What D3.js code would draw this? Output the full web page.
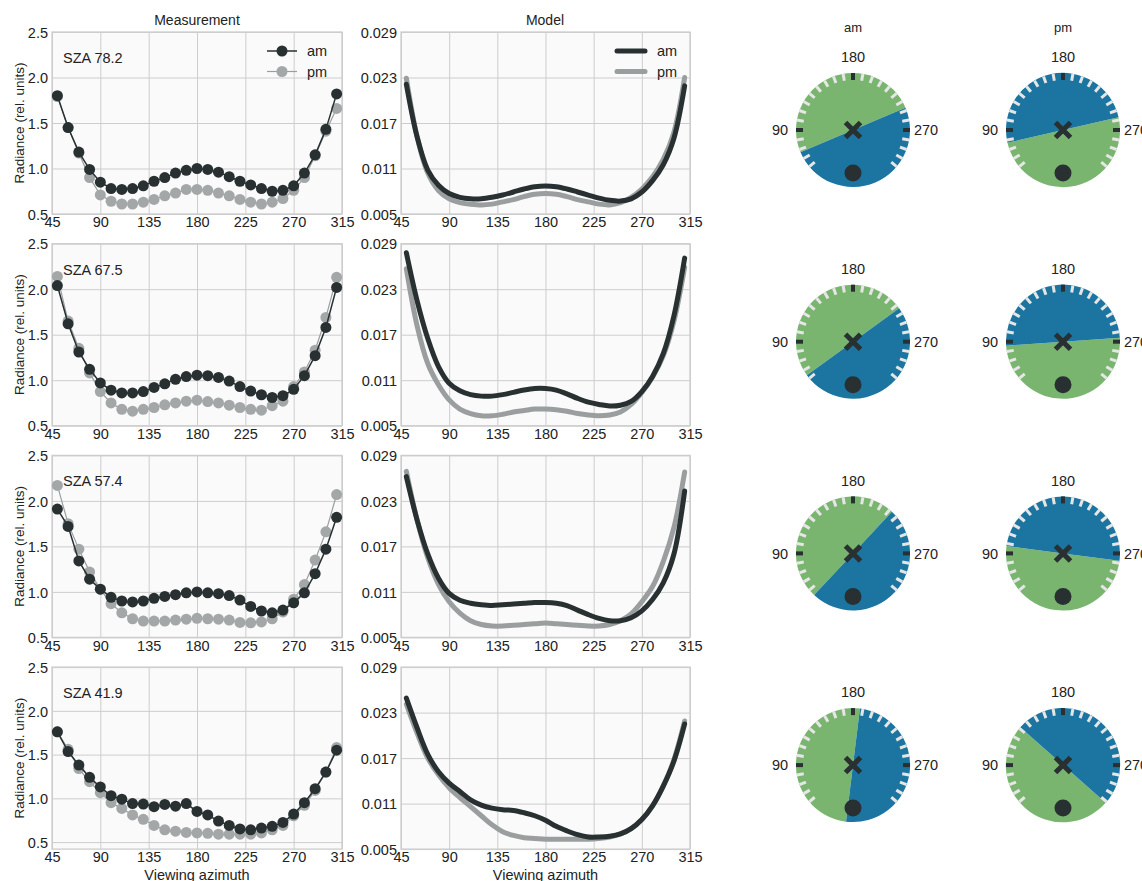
<!DOCTYPE html>
<html>
<head>
<meta charset="utf-8">
<script src="https://cdn.jsdelivr.net/npm/d3@7"></script>
<style>
  body { margin: 0; background: #fff; }
  text { font-family: "Liberation Sans", Arial, sans-serif; fill: #222; }
</style>
</head>
<body>
<div id="viz"></div>
<script>
// viewing azimuth of every sample
const azimuth = [50, 60, 70, 80, 90, 100, 110, 120, 130, 140, 150, 160, 170, 180,
  190, 200, 210, 220, 230, 240, 250, 260, 270, 280, 290, 300, 310];

const szaLabels = ["SZA 78.2", "SZA 67.5", "SZA 57.4", "SZA 41.9"];

const xTicks = [45, 90, 135, 180, 225, 270, 315];
const measTicks = [0.5, 1.0, 1.5, 2.0, 2.5];
const modelTicks = [0.005, 0.011, 0.017, 0.023, 0.029];

// measured radiance, one row per SZA
const measAm = [
  [1.80, 1.45, 1.18, 0.99, 0.85, 0.78, 0.77, 0.78, 0.81, 0.86, 0.90, 0.95, 0.98, 1.00, 0.99, 0.96, 0.91, 0.86, 0.82, 0.78, 0.75, 0.76, 0.81, 0.95, 1.15, 1.43, 1.82],
  [2.04, 1.62, 1.31, 1.12, 0.97, 0.89, 0.86, 0.86, 0.875, 0.92, 0.96, 1.01, 1.04, 1.055, 1.05, 1.03, 0.99, 0.93, 0.88, 0.84, 0.81, 0.83, 0.90, 1.05, 1.27, 1.58, 2.02],
  [1.91, 1.72, 1.34, 1.14, 1.03, 0.94, 0.90, 0.89, 0.90, 0.93, 0.95, 0.97, 0.99, 1.00, 0.99, 0.98, 0.96, 0.91, 0.84, 0.79, 0.77, 0.80, 0.88, 0.99, 1.20, 1.47, 1.82],
  [1.76, 1.535, 1.38, 1.24, 1.13, 1.03, 0.99, 0.94, 0.935, 0.905, 0.93, 0.91, 0.94, 0.85, 0.81, 0.74, 0.69, 0.65, 0.64, 0.66, 0.68, 0.725, 0.82, 0.95, 1.11, 1.30, 1.55]
];
const measPm = [
  [1.79, 1.45, 1.17, 0.90, 0.71, 0.64, 0.61, 0.61, 0.63, 0.66, 0.70, 0.73, 0.77, 0.77, 0.76, 0.73, 0.70, 0.66, 0.63, 0.61, 0.63, 0.67, 0.76, 0.90, 1.14, 1.41, 1.66],
  [2.14, 1.65, 1.35, 1.08, 0.875, 0.75, 0.68, 0.66, 0.68, 0.70, 0.73, 0.75, 0.77, 0.78, 0.765, 0.75, 0.725, 0.70, 0.68, 0.67, 0.72, 0.77, 0.93, 1.09, 1.33, 1.69, 2.13],
  [2.17, 1.75, 1.47, 1.22, 1.03, 0.87, 0.77, 0.705, 0.68, 0.68, 0.68, 0.69, 0.70, 0.71, 0.705, 0.70, 0.69, 0.665, 0.66, 0.67, 0.705, 0.78, 0.92, 1.08, 1.35, 1.66, 2.07],
  [1.76, 1.56, 1.34, 1.19, 1.065, 0.95, 0.885, 0.81, 0.76, 0.69, 0.64, 0.625, 0.61, 0.605, 0.60, 0.59, 0.59, 0.59, 0.59, 0.605, 0.64, 0.69, 0.80, 0.92, 1.09, 1.30, 1.58]
];
const measYMin = [0.5, 0.5, 0.5, 0.42];

// modelled radiance
const modelAm = [
  [0.0221, 0.0152, 0.0108, 0.0088, 0.0077, 0.0072, 0.0070, 0.0070, 0.0072, 0.0075, 0.0079, 0.0083, 0.0086, 0.0087, 0.0086, 0.0083, 0.0079, 0.0075, 0.0071, 0.0068, 0.0067, 0.0070, 0.0079, 0.0094, 0.0115, 0.0150, 0.0219],
  [0.0278, 0.0215, 0.0165, 0.0128, 0.0106, 0.0096, 0.0091, 0.0089, 0.0089, 0.0091, 0.0094, 0.0097, 0.0099, 0.0099, 0.0097, 0.0092, 0.0086, 0.0081, 0.0078, 0.0076, 0.0077, 0.0082, 0.0095, 0.0115, 0.0145, 0.0195, 0.0271],
  [0.0262, 0.0205, 0.0160, 0.0128, 0.0108, 0.0099, 0.0095, 0.0093, 0.0092, 0.0093, 0.0094, 0.0095, 0.0096, 0.0096, 0.0095, 0.0092, 0.0086, 0.0080, 0.0075, 0.0072, 0.0072, 0.0076, 0.0085, 0.0100, 0.0122, 0.0160, 0.0243],
  [0.0249, 0.0210, 0.0175, 0.0152, 0.0137, 0.0126, 0.0115, 0.0108, 0.0104, 0.0102, 0.0101, 0.0098, 0.0094, 0.0088, 0.0080, 0.0074, 0.0069, 0.0066, 0.0066, 0.0067, 0.0070, 0.0077, 0.0089, 0.0107, 0.0133, 0.0166, 0.0215]
];
const modelPm = [
  [0.0229, 0.0152, 0.0104, 0.0081, 0.0070, 0.0065, 0.0063, 0.0062, 0.0063, 0.0066, 0.0069, 0.0073, 0.0076, 0.0077, 0.0076, 0.0073, 0.0069, 0.0066, 0.0063, 0.0062, 0.0065, 0.0072, 0.0083, 0.0099, 0.0122, 0.0158, 0.0230],
  [0.0257, 0.0182, 0.0132, 0.0104, 0.0084, 0.0072, 0.0066, 0.0063, 0.0063, 0.0065, 0.0068, 0.0070, 0.0072, 0.0072, 0.0071, 0.0069, 0.0066, 0.0064, 0.0063, 0.0064, 0.0068, 0.0078, 0.0094, 0.0114, 0.0142, 0.0188, 0.0259],
  [0.0269, 0.0205, 0.0155, 0.0120, 0.0097, 0.0082, 0.0072, 0.0067, 0.0065, 0.0065, 0.0066, 0.0067, 0.0068, 0.0069, 0.0068, 0.0067, 0.0066, 0.0065, 0.0065, 0.0067, 0.0072, 0.0081, 0.0097, 0.0117, 0.0150, 0.0195, 0.0268],
  [0.0241, 0.0203, 0.0170, 0.0148, 0.0131, 0.0118, 0.0106, 0.0094, 0.0082, 0.0073, 0.0068, 0.0065, 0.0064, 0.0063, 0.0063, 0.0063, 0.0063, 0.0063, 0.0064, 0.0066, 0.0070, 0.0077, 0.0089, 0.0107, 0.0133, 0.0168, 0.0219]
];

// dial: green half starts at this azimuth and spans 180 degrees
const dialAmGreen = [67, 54, 43, 7];
const dialPmGreen = [257, 266, 277.5, 311.5];
const dialTicks = [50, 60, 70, 80, 90, 100, 110, 120, 130, 140, 150, 160, 170, 180,
  190, 200, 210, 220, 230, 240, 250, 260, 270, 280, 290, 300, 310];
const dialLabels = [90, 180, 270];

const width = 1142, height = 881;
const dark = "#283032", grey = "#9a9e9e";
const green = "#79b56f", blue = "#1b75a0";

const svg = d3.select("#viz").append("svg")
  .attr("width", width).attr("height", height);

const rowH = 182;
const rowTop = i => 32 + i * 211.7;

const xMeas = d3.scaleLinear().domain([45, 315]).range([52, 342]);
const xModel = d3.scaleLinear().domain([45, 315]).range([401, 690]);

function panel(g, x, y, yTicks, fmt, top, showXLabel) {
  const [x0, x1] = x.range();
  g.append("rect")
    .attr("x", x0).attr("y", top).attr("width", x1 - x0).attr("height", rowH)
    .attr("fill", "#fafafa");

  const ya = g.append("g").attr("transform", `translate(${x0},0)`)
    .call(d3.axisLeft(y).tickValues(yTicks).tickFormat(fmt).tickSize(-(x1 - x0)).tickPadding(4));
  const xa = g.append("g").attr("transform", `translate(0,${top + rowH})`)
    .call(d3.axisBottom(x).tickValues(xTicks).tickSize(-rowH).tickPadding(3));
  [ya, xa].forEach(a => {
    a.select(".domain").remove();
    a.selectAll("line").attr("stroke", "#cdcdcd").attr("stroke-width", 1);
    a.selectAll("text").style("font-size", "14.5px").attr("fill", "#222")
      .style("font-family", "Liberation Sans, Arial, sans-serif");
  });
  ya.selectAll("text").attr("dy", "0.36em");

  g.append("rect")
    .attr("x", x0).attr("y", top).attr("width", x1 - x0).attr("height", rowH)
    .attr("fill", "none").attr("stroke", "#cdcdcd").attr("stroke-width", 1.3);

  if (showXLabel) {
    g.append("text").attr("x", (x0 + x1) / 2).attr("y", top + rowH + 31)
      .attr("text-anchor", "middle").style("font-size", "14.5px").text("Viewing azimuth");
  }
}

for (let i = 0; i < 4; i++) {
  const top = rowTop(i);
  const last = i === 3;

  // measurement
  const yMeas = d3.scaleLinear().domain([measYMin[i], 2.5]).range([top + rowH, top]);
  const gm = svg.append("g");
  panel(gm, xMeas, yMeas, measTicks, d3.format(".1f"), top, last);

  const lineMeas = d3.line().x((d, j) => xMeas(azimuth[j])).y(d => yMeas(d));
  gm.append("path").datum(measPm[i]).attr("d", lineMeas)
    .attr("fill", "none").attr("stroke", grey).attr("stroke-width", 1.2);
  gm.selectAll(".pm").data(measPm[i]).join("circle")
    .attr("cx", (d, j) => xMeas(azimuth[j])).attr("cy", d => yMeas(d))
    .attr("r", 5.5).attr("fill", "#a3a7a7");
  gm.append("path").datum(measAm[i]).attr("d", lineMeas)
    .attr("fill", "none").attr("stroke", dark).attr("stroke-width", 1.5);
  gm.selectAll(".am").data(measAm[i]).join("circle")
    .attr("cx", (d, j) => xMeas(azimuth[j])).attr("cy", d => yMeas(d))
    .attr("r", 5.5).attr("fill", dark);

  gm.append("text").attr("x", 63).attr("y", top + 31)
    .style("font-size", "14.5px").text(szaLabels[i]);

  gm.append("text")
    .attr("transform", `translate(24,${top + rowH / 2}) rotate(-90)`)
    .attr("text-anchor", "middle").style("font-size", "13.5px")
    .text("Radiance (rel. units)");

  // model
  const yModel = d3.scaleLinear().domain([0.005, 0.029]).range([top + rowH, top]);
  const gd = svg.append("g");
  panel(gd, xModel, yModel, modelTicks, d3.format(".3f"), top, last);

  const lineModel = d3.line().curve(d3.curveCatmullRom)
    .x((d, j) => xModel(azimuth[j])).y(d => yModel(d));
  gd.append("path").datum(modelPm[i]).attr("d", lineModel)
    .attr("fill", "none").attr("stroke", grey).attr("stroke-width", 5)
    .attr("stroke-linecap", "round");
  gd.append("path").datum(modelAm[i]).attr("d", lineModel)
    .attr("fill", "none").attr("stroke", dark).attr("stroke-width", 5)
    .attr("stroke-linecap", "round");

  // dials
  const cy = top + 98;
  [[853, dialAmGreen[i]], [1063, dialPmGreen[i]]].forEach(([cx, gStart]) => {
    const r = 57;
    const gc = svg.append("g").attr("transform", `translate(${cx},${cy})`);
    const arc = d3.arc().innerRadius(0).outerRadius(r);
    const rad = a => (a - 180) * Math.PI / 180;
    gc.append("path").attr("d", arc({ startAngle: rad(gStart), endAngle: rad(gStart + 180) }))
      .attr("fill", green);
    gc.append("path").attr("d", arc({ startAngle: rad(gStart + 180), endAngle: rad(gStart + 360) }))
      .attr("fill", blue);

    const pos = (a, rr) => [-rr * Math.sin(a * Math.PI / 180), rr * Math.cos(a * Math.PI / 180)];
    gc.selectAll(".tk").data(dialTicks).join("line")
      .attr("x1", a => pos(a, r - 7)[0]).attr("y1", a => pos(a, r - 7)[1])
      .attr("x2", a => pos(a, r)[0]).attr("y2", a => pos(a, r)[1])
      .attr("stroke", a => dialLabels.includes(a) ? dark : "#e6e6e6")
      .attr("stroke-width", a => dialLabels.includes(a) ? 4 : 3);

    gc.selectAll(".lb").data(dialLabels).join("text")
      .attr("x", a => pos(a, 73)[0]).attr("y", a => pos(a, 73)[1])
      .attr("text-anchor", "middle").attr("dy", "0.36em")
      .style("font-size", "14.5px").text(a => a);

    const s = 7.5;
    gc.append("path").attr("d", `M${-s},${-s}L${s},${s}M${-s},${s}L${s},${-s}`)
      .attr("stroke", dark).attr("stroke-width", 5);
    gc.append("circle").attr("cx", 0).attr("cy", 43).attr("r", 8.5).attr("fill", dark);
  });
}

// titles
svg.append("text").attr("x", 197).attr("y", 25).attr("text-anchor", "middle")
  .style("font-size", "14px").text("Measurement");
svg.append("text").attr("x", 545).attr("y", 25).attr("text-anchor", "middle")
  .style("font-size", "14px").text("Model");
svg.append("text").attr("x", 853).attr("y", 32).attr("text-anchor", "middle")
  .style("font-size", "13px").text("am");
svg.append("text").attr("x", 1063).attr("y", 32).attr("text-anchor", "middle")
  .style("font-size", "13px").text("pm");

// legends
const series = [{ name: "am", color: dark }, { name: "pm", color: grey }];
const lm = svg.append("g");
series.forEach((s, k) => {
  const y = 51 + k * 20.5;
  lm.append("line").attr("x1", 267).attr("x2", 297).attr("y1", y).attr("y2", y)
    .attr("stroke", s.color).attr("stroke-width", s.name === "am" ? 1.5 : 1.2);
  lm.append("circle").attr("cx", 282).attr("cy", y).attr("r", 5.5)
    .attr("fill", s.name === "am" ? dark : "#a3a7a7");
  lm.append("text").attr("x", 307).attr("y", y).attr("dy", "0.36em")
    .style("font-size", "14.5px").text(s.name);

  lm.append("line").attr("x1", 617).attr("x2", 645).attr("y1", y).attr("y2", y)
    .attr("stroke", s.color).attr("stroke-width", 5).attr("stroke-linecap", "round");
  lm.append("text").attr("x", 657).attr("y", y).attr("dy", "0.36em")
    .style("font-size", "14.5px").text(s.name);
});
</script>
</body>
</html>
